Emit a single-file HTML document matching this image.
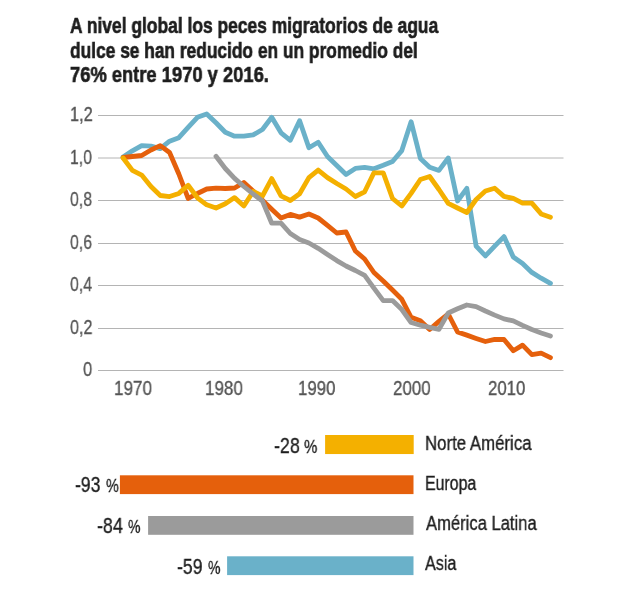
<!DOCTYPE html>
<html><head><meta charset="utf-8"><style>
html,body{margin:0;padding:0;background:#fff;width:638px;height:592px;overflow:hidden;position:relative}
.t{position:absolute;white-space:nowrap;line-height:1;font-family:"Liberation Sans",sans-serif;transform-origin:left top;will-change:transform}
</style></head><body>
<svg width="638" height="592" style="position:absolute;left:0;top:0">
<g stroke="#b4b4b4" stroke-width="1.0"><line x1="98.00" x2="563.50" y1="115.50" y2="115.50"/><line x1="98.00" x2="563.50" y1="158.00" y2="158.00"/><line x1="98.00" x2="563.50" y1="200.50" y2="200.50"/><line x1="98.00" x2="563.50" y1="243.50" y2="243.50"/><line x1="98.00" x2="563.50" y1="285.50" y2="285.50"/><line x1="98.00" x2="563.50" y1="328.50" y2="328.50"/><line x1="98.00" x2="563.50" y1="370.50" y2="370.50"/></g>
<g fill="none" stroke-width="4.8" stroke-linejoin="round" stroke-linecap="round">
<polyline stroke="#6ab1c9" points="123.10,157.00 132.39,150.80 141.68,145.60 150.97,146.10 160.26,148.60 169.55,141.20 178.84,137.70 188.13,127.40 197.42,117.30 206.71,113.90 216.00,122.80 225.29,132.30 234.58,136.20 243.87,136.20 253.16,134.90 262.45,129.50 271.74,117.30 281.03,132.80 290.32,140.30 299.61,120.70 308.90,147.70 318.19,142.30 327.48,156.50 336.77,165.50 346.06,174.50 355.35,168.40 364.64,167.40 373.93,168.80 383.22,165.30 392.51,161.50 401.80,150.60 411.09,121.70 420.38,158.40 429.67,167.20 438.96,170.40 448.25,158.00 457.54,201.00 466.83,188.30 476.12,246.10 485.41,255.90 494.70,246.10 503.99,236.60 513.28,257.00 522.57,263.50 531.86,272.40 541.15,278.20 550.44,283.40"/>
<polyline stroke="#e5600c" points="123.10,157.50 132.39,156.50 141.68,155.50 150.97,150.00 160.26,145.60 169.55,152.50 178.84,174.00 188.13,198.40 197.42,193.50 206.71,189.00 216.00,188.20 225.29,188.50 234.58,188.00 243.87,182.50 253.16,191.00 262.45,200.20 271.74,209.20 281.03,218.00 290.32,214.40 299.61,217.10 308.90,214.00 318.19,218.00 327.48,225.40 336.77,233.00 346.06,232.00 355.35,251.00 364.64,259.00 373.93,272.50 383.22,281.00 392.51,290.00 401.80,299.30 411.09,317.30 420.38,320.70 429.67,329.50 438.96,321.40 448.25,314.00 457.54,332.00 466.83,335.10 476.12,338.40 485.41,341.50 494.70,339.30 503.99,339.50 513.28,350.70 522.57,345.10 531.86,354.70 541.15,353.20 550.44,357.70"/>
<polyline stroke="#f4b000" points="123.10,158.00 132.39,170.40 141.68,175.10 150.97,186.60 160.26,195.50 169.55,196.60 178.84,193.40 188.13,185.30 197.42,197.80 206.71,204.80 216.00,208.00 225.29,203.70 234.58,197.60 243.87,206.00 253.16,191.50 262.45,196.00 271.74,178.60 281.03,195.80 290.32,200.50 299.61,193.80 308.90,177.60 318.19,170.10 327.48,177.60 336.77,183.50 346.06,189.00 355.35,196.50 364.64,191.80 373.93,172.80 383.22,172.80 392.51,198.50 401.80,206.00 411.09,193.40 420.38,179.50 429.67,176.50 438.96,189.50 448.25,203.30 457.54,208.00 466.83,212.50 476.12,199.50 485.41,191.00 494.70,188.20 503.99,196.40 513.28,198.40 522.57,203.10 531.86,203.10 541.15,213.90 550.44,217.30"/>
<polyline stroke="#9b9b9b" points="216.00,156.30 225.29,168.50 234.58,178.40 243.87,186.50 253.16,194.00 262.45,201.00 271.74,223.20 281.03,223.20 290.32,233.50 299.61,239.60 308.90,243.00 318.19,248.30 327.48,254.50 336.77,260.60 346.06,266.00 355.35,270.50 364.64,275.40 373.93,288.20 383.22,300.60 392.51,300.60 401.80,309.50 411.09,322.50 420.38,325.20 429.67,327.30 438.96,329.30 448.25,313.00 457.54,308.80 466.83,305.00 476.12,306.60 485.41,311.00 494.70,315.10 503.99,318.90 513.28,320.90 522.57,325.40 531.86,329.50 541.15,333.00 550.44,336.00"/>
</g>
<rect x="325.1" y="435" width="88.59999999999997" height="19.05000000000001" fill="#f4b000"/>
<rect x="119.9" y="475.3" width="293.6" height="18.80000000000001" fill="#e5600c"/>
<rect x="148.1" y="516" width="265.4" height="18.799999999999955" fill="#9b9b9b"/>
<rect x="227.1" y="556.3" width="186.4" height="18.800000000000068" fill="#6ab1c9"/>
</svg>
<div class="t" style="left:69.98px;top:16.00px;font-size:21.50px;transform:scaleX(0.8104);color:#1e1e1e;font-weight:bold;-webkit-text-stroke:0.6px #1e1e1e">A nivel global los peces migratorios de agua</div>
<div class="t" style="left:70.21px;top:41.00px;font-size:21.50px;transform:scaleX(0.8064);color:#1e1e1e;font-weight:bold;-webkit-text-stroke:0.6px #1e1e1e">dulce se han reducido en un promedio del</div>
<div class="t" style="left:70.47px;top:65.00px;font-size:21.50px;transform:scaleX(0.8531);color:#1e1e1e;font-weight:bold;-webkit-text-stroke:0.6px #1e1e1e">76% entre 1970 y 2016.</div>
<div class="t" style="left:69.69px;top:105.00px;font-size:19.45px;transform:scaleX(0.8406);color:#555555;font-weight:normal;-webkit-text-stroke:0.35px #555555">1,2</div>
<div class="t" style="left:69.63px;top:148.00px;font-size:19.45px;transform:scaleX(0.8137);color:#555555;font-weight:normal;-webkit-text-stroke:0.35px #555555">1,0</div>
<div class="t" style="left:69.96px;top:190.00px;font-size:19.45px;transform:scaleX(0.8163);color:#555555;font-weight:normal;-webkit-text-stroke:0.35px #555555">0,8</div>
<div class="t" style="left:69.96px;top:233.00px;font-size:19.45px;transform:scaleX(0.8163);color:#555555;font-weight:normal;-webkit-text-stroke:0.35px #555555">0,6</div>
<div class="t" style="left:69.96px;top:275.00px;font-size:19.45px;transform:scaleX(0.8179);color:#555555;font-weight:normal;-webkit-text-stroke:0.35px #555555">0,4</div>
<div class="t" style="left:69.95px;top:318.00px;font-size:19.45px;transform:scaleX(0.8305);color:#555555;font-weight:normal;-webkit-text-stroke:0.35px #555555">0,2</div>
<div class="t" style="left:82.84px;top:360.00px;font-size:19.45px;transform:scaleX(0.8462);color:#555555;font-weight:normal;-webkit-text-stroke:0.35px #555555">0</div>
<div class="t" style="left:114.24px;top:379.00px;font-size:19.58px;transform:scaleX(0.8707);color:#555555;font-weight:normal;-webkit-text-stroke:0.35px #555555">1970</div>
<div class="t" style="left:205.24px;top:379.00px;font-size:19.58px;transform:scaleX(0.8683);color:#555555;font-weight:normal;-webkit-text-stroke:0.35px #555555">1980</div>
<div class="t" style="left:297.56px;top:379.00px;font-size:19.58px;transform:scaleX(0.8586);color:#555555;font-weight:normal;-webkit-text-stroke:0.35px #555555">1990</div>
<div class="t" style="left:393.05px;top:379.00px;font-size:19.58px;transform:scaleX(0.8633);color:#555555;font-weight:normal;-webkit-text-stroke:0.35px #555555">2000</div>
<div class="t" style="left:488.46px;top:379.00px;font-size:19.58px;transform:scaleX(0.8561);color:#555555;font-weight:normal;-webkit-text-stroke:0.35px #555555">2010</div>
<div class="t" style="left:273.59px;top:436.00px;font-size:21.30px;transform:scaleX(0.8389);color:#1e1e1e;font-weight:normal;-webkit-text-stroke:0.35px #1e1e1e">-28</div>
<div class="t" style="left:304.30px;top:438.00px;font-size:18.92px;transform:scaleX(0.7895);color:#1e1e1e;font-weight:normal;-webkit-text-stroke:0.35px #1e1e1e">%</div>
<div class="t" style="left:74.80px;top:475.00px;font-size:21.30px;transform:scaleX(0.8250);color:#1e1e1e;font-weight:normal;-webkit-text-stroke:0.35px #1e1e1e">-93</div>
<div class="t" style="left:105.52px;top:477.00px;font-size:18.92px;transform:scaleX(0.7634);color:#1e1e1e;font-weight:normal;-webkit-text-stroke:0.35px #1e1e1e">%</div>
<div class="t" style="left:97.18px;top:516.00px;font-size:21.30px;transform:scaleX(0.8403);color:#1e1e1e;font-weight:normal;-webkit-text-stroke:0.35px #1e1e1e">-84</div>
<div class="t" style="left:127.94px;top:518.00px;font-size:18.92px;transform:scaleX(0.7373);color:#1e1e1e;font-weight:normal;-webkit-text-stroke:0.35px #1e1e1e">%</div>
<div class="t" style="left:177.09px;top:557.00px;font-size:21.30px;transform:scaleX(0.8285);color:#1e1e1e;font-weight:normal;-webkit-text-stroke:0.35px #1e1e1e">-59</div>
<div class="t" style="left:207.94px;top:559.00px;font-size:18.92px;transform:scaleX(0.7373);color:#1e1e1e;font-weight:normal;-webkit-text-stroke:0.35px #1e1e1e">%</div>
<div class="t" style="left:424.85px;top:434.00px;font-size:19.50px;transform:scaleX(0.8626);color:#1e1e1e;font-weight:normal;-webkit-text-stroke:0.35px #1e1e1e">Norte América</div>
<div class="t" style="left:424.83px;top:474.00px;font-size:19.50px;transform:scaleX(0.8150);color:#1e1e1e;font-weight:normal;-webkit-text-stroke:0.35px #1e1e1e">Europa</div>
<div class="t" style="left:425.50px;top:514.00px;font-size:19.50px;transform:scaleX(0.8511);color:#1e1e1e;font-weight:normal;-webkit-text-stroke:0.35px #1e1e1e">América Latina</div>
<div class="t" style="left:425.30px;top:554.00px;font-size:19.50px;transform:scaleX(0.8284);color:#1e1e1e;font-weight:normal;-webkit-text-stroke:0.35px #1e1e1e">Asia</div>
</body></html>
